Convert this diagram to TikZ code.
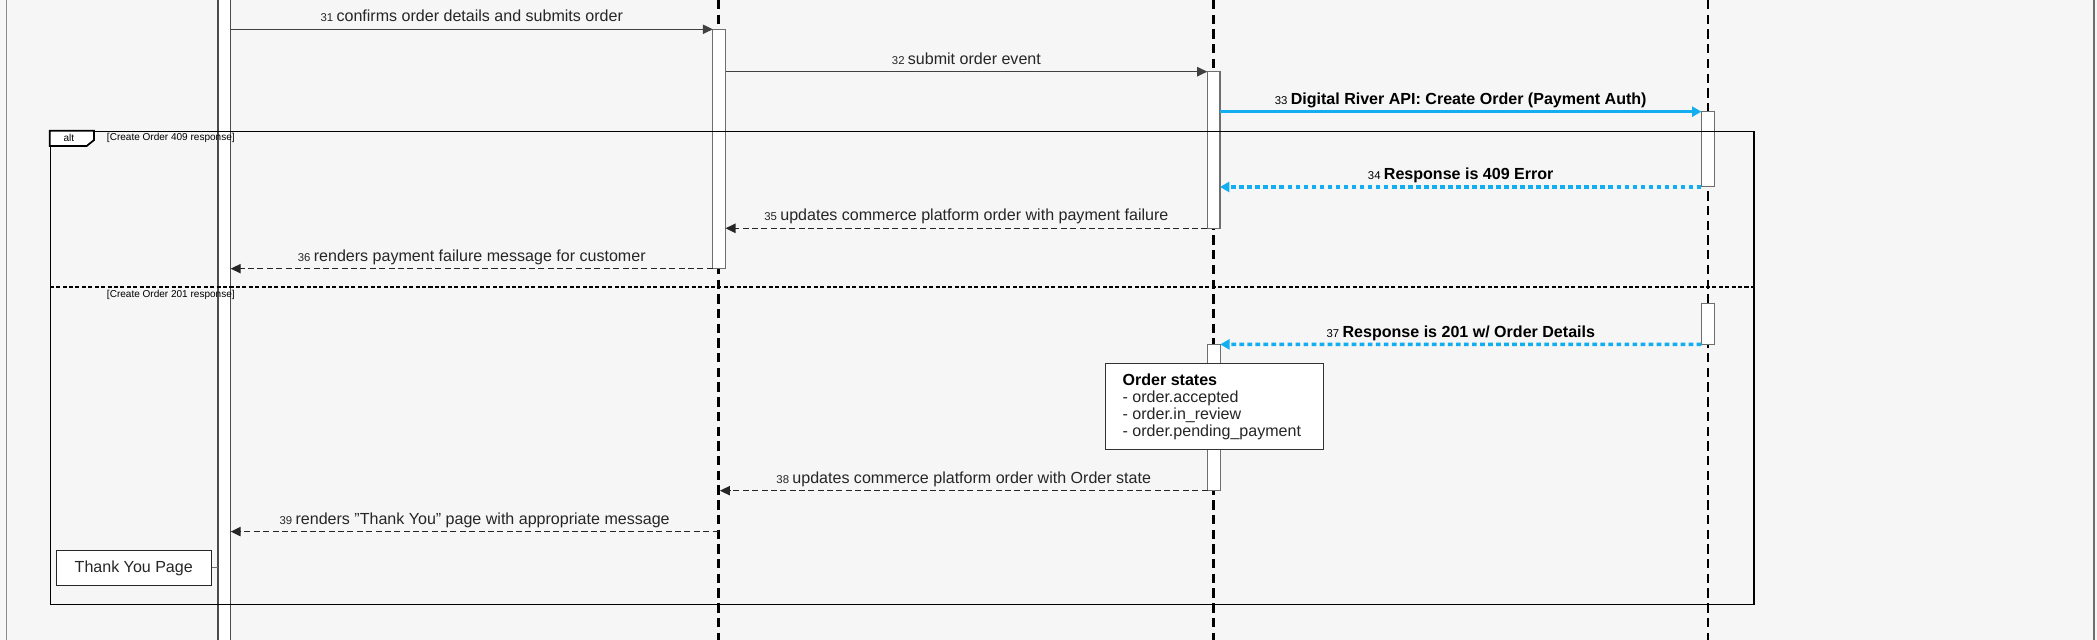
\documentclass[tikz,border=0pt]{standalone}
\usepackage{fontspec}
\setmainfont{Liberation Sans}
\usetikzlibrary{arrows.meta}
\definecolor{bgc}{HTML}{F6F6F6}
\definecolor{drblue}{HTML}{12AEEF}
\definecolor{boxline}{HTML}{6E6E6E}
\newcommand{\sqn}[1]{{\fontsize{8.5}{10}\selectfont #1}\hspace{2.5pt}}
\begin{document}
\begin{tikzpicture}[x=1pt,y=-1pt,
  lifeline/.style={draw=black, line width=2pt, dash pattern=on 7pt off 4pt},
  actbox/.style={draw=boxline, fill=white, line width=0.8pt, inner sep=0pt, outer sep=0pt, anchor=north west},
  msg/.style={draw=black!75, line width=1pt, -{Triangle[length=7.5pt,width=7pt]}},
  reply/.style={draw=black!85, line width=1pt, dash pattern=on 4.5pt off 2.5pt, -{Triangle[length=7.5pt,width=7pt]}},
  apicall/.style={draw=drblue, line width=2.6pt, -{Triangle[length=7pt,width=7.5pt]}},
  apireply/.style={draw=drblue, line width=2.6pt, dash pattern=on 3.5pt off 2.5pt, -{Triangle[length=7pt,width=7.5pt]}},
  lbl/.style={font=\fontsize{12}{14}\selectfont, text=black!85, anchor=base, inner sep=0pt, pos=0.5, yshift=5.5pt},
  blbl/.style={lbl, font=\fontsize{12}{14}\selectfont\bfseries, text=black},
  cond/.style={font=\fontsize{7.5}{9}\selectfont, anchor=west, inner sep=0pt},
  notetext/.style={font=\fontsize{12}{14}\selectfont, text=black!85, anchor=base west, inner sep=0pt}
]
\useasboundingbox (0,0) rectangle (1568,478.5);
\fill[bgc] (0,0) rectangle (1568,478.5);
% outer frame
\draw[boxline!80, line width=1pt] (5,-5) -- (5,485);
\draw[boxline, line width=1.6pt] (1566,-5) -- (1566,485);

% lifelines
\coordinate (l2t) at (537.3,0);
\coordinate (l2b) at (537.3,478.5);
\coordinate (l3t) at (907.5,0);
\coordinate (l3b) at (907.5,478.5);
\coordinate (l4t) at (1277,0);
\coordinate (l4b) at (1277,478.5);
\draw[lifeline] (l2t) -- (l2b);
\draw[lifeline] (l3t) -- (l3b);
\draw[lifeline] (l4t) -- (l4b);

% activation bars
\node[actbox, draw=black!70, minimum width=9.5pt, minimum height=490pt] (a1) at (163,-6) {};
\node[actbox, minimum width=9.5pt, minimum height=179pt] (a2) at (533,21.9) {};
\node[actbox, minimum width=9.5pt, minimum height=117.1pt] (a3) at (902.7,53.6) {};
\node[actbox, minimum width=9.5pt, minimum height=56.3pt] (a4) at (1272.2,83.5) {};
\node[actbox, minimum width=9.5pt, minimum height=30.7pt] (a4b) at (1272.2,226.8) {};
\node[actbox, minimum width=9.5pt, minimum height=109.4pt] (a3b) at (902.9,257.5) {};

% messages
\draw[msg] (a1.east |- a2.north) -- node[lbl] {\sqn{31}confirms order details and submits order} (a2.north west);
\draw[msg] (a2.east |- a3.north) -- node[lbl] {\sqn{32}submit order event} (a3.north west);
\draw[apicall] (a3.east |- a4.north) -- node[blbl] {\sqn{\mdseries 33}Digital River API: Create Order (Payment Auth)} (a4.north west);
\draw[apireply] (a4.south west) -- node[blbl] {\sqn{\mdseries 34}Response is 409 Error} (a3.east |- a4.south);
\draw[reply] (a3.south west) -- node[lbl] {\sqn{35}updates commerce platform order with payment failure} (a2.east |- a3.south);
\draw[reply] (a2.south west) -- node[lbl] {\sqn{36}renders payment failure message for customer} (a1.east |- a2.south);
\draw[apireply] (a4b.south west) -- node[blbl] {\sqn{\mdseries 37}Response is 201 w/ Order Details} (a3b.north east);

% note
\node[draw=black!80, fill=white, line width=0.8pt, anchor=north west, minimum width=163pt, minimum height=64.8pt, inner sep=0pt] (note) at (826.2,271.2) {};
\node[notetext, font=\fontsize{12}{14}\selectfont\bfseries, text=black] (n1) at (839.2,288) {Order states};
\node[notetext] (n2) at (839.2,301) {- order.accepted};
\node[notetext] (n3) at (839.2,313.8) {- order.in\_review};
\node[notetext] (n4) at (839.2,326.6) {- order.pending\_payment};

\coordinate (m38e) at (538.3,366.9);
\coordinate (m39s) at (537.3,397.5);
\draw[reply] (a3b.south west) -- node[lbl] {\sqn{38}updates commerce platform order with Order state} (m38e);
\draw[reply] (m39s) -- node[lbl] {\sqn{39}renders {\char34}Thank You{\char34} page with appropriate message} (a1.east |- m39s);

% thank you page
\node[draw=black!85, fill=white, line width=0.8pt, minimum width=116.2pt, minimum height=25.9pt, inner sep=0pt, font=\fontsize{12}{14}\selectfont, text=black!85] (typ) at (100,424.6) {Thank You Page};
\draw[boxline, line width=0.8pt] (typ.east) -- (a1.west |- typ.east);

% alt frame
\node[draw=black, line width=1.3pt, anchor=north west, minimum width=1273.8pt, minimum height=353.6pt, inner sep=0pt] (altbox) at (37.2,97.7) {};
\draw[fill=white, line width=1.3pt] (37.2,97.7) -- (70.3,97.7) -- (70.3,104.7) -- (64.8,109.2) -- (37.2,109.2) -- cycle;
\node[font=\fontsize{7.5}{9}\selectfont, inner sep=0pt] (altlbl) at (51.5,103.4) {alt};
\draw[black, line width=1.5pt, dash pattern=on 3pt off 1.8pt] (altbox.west |- 0,214.8) -- (altbox.east |- 0,214.8);
\node[cond] (c1) at (79.8,102.9) {[Create Order 409 response]};
\node[cond] (c2) at (79.8,220.6) {[Create Order 201 response]};
\end{tikzpicture}
\end{document}
